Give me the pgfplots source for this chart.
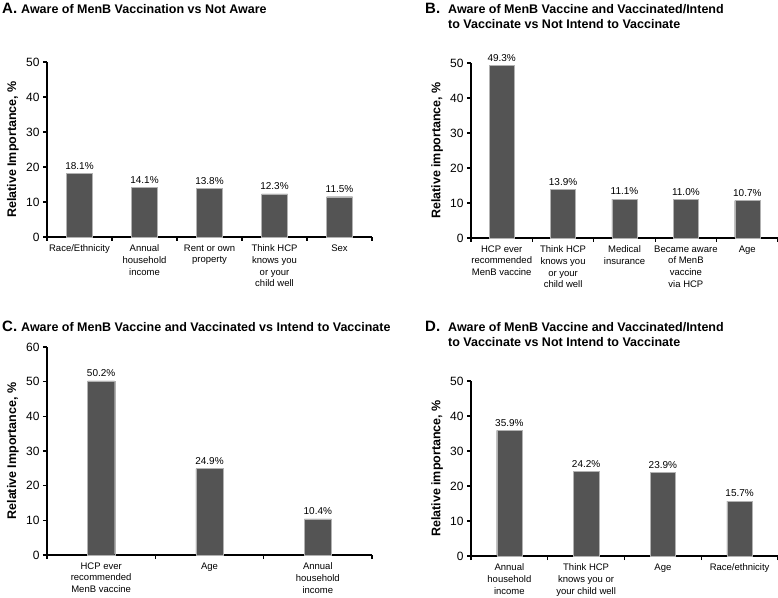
\documentclass[border=0pt]{standalone}
\usepackage{fontspec}
\setmainfont{Liberation Sans}
\usepackage{pgfplots}
\pgfplotsset{compat=1.18}
\definecolor{barcol}{RGB}{84,84,84}
\pgfplotsset{
 panel/.style={
  scale only axis,
  axis lines*=left,
  axis line style={line width=1.1pt},
  ymin=0,
  enlargelimits=false,
  clip=false,
  tick align=outside,
  major tick length=4pt,
  minor tick length=4pt,
  ytick style={black,line width=1.1pt},
  major x tick style={draw=none},
  minor x tick style={black,line width=1.1pt},
  /pgf/number format/assume math mode=true,
  yticklabel style={font=\fontsize{12}{14}\selectfont},
  xticklabel style={font=\fontsize{9.5}{11.8}\selectfont, align=center},
  ylabel style={font=\fontsize{12.5}{15}\selectfont\bfseries, anchor=center},
  ybar,
  nodes near coords={\pgfmathprintnumber[fixed,fixed zerofill,precision=1]{\pgfplotspointmeta}\%},
  nodes near coords style={font=\fontsize{10}{12}\selectfont, inner ysep=4pt, text=black},
  xtick=data,
 }
}
\tikzset{bars/.style={fill=barcol, draw=black!30, line width=0.4pt}}
\begin{document}
\begin{tikzpicture}
\useasboundingbox (0,0) rectangle (778pt,597pt);
% titles
\node[anchor=base west, font=\fontsize{15}{18}\selectfont\bfseries, inner sep=0] at (2pt,583pt) {A.};
\node[anchor=base west, font=\fontsize{12.5}{15}\selectfont\bfseries, inner sep=0] at (21pt,583pt) {Aware of MenB Vaccination vs Not Aware};
\node[anchor=base west, font=\fontsize{15}{18}\selectfont\bfseries, inner sep=0] at (425pt,583pt) {B.};
\node[anchor=base west, font=\fontsize{12.5}{15}\selectfont\bfseries, inner sep=0] at (448pt,583pt) {Aware of MenB Vaccine and Vaccinated/Intend};
\node[anchor=base west, font=\fontsize{12.5}{15}\selectfont\bfseries, inner sep=0] at (448pt,568pt) {to Vaccinate vs Not Intend to Vaccinate};
\node[anchor=base west, font=\fontsize{15}{18}\selectfont\bfseries, inner sep=0] at (2pt,265pt) {C.};
\node[anchor=base west, font=\fontsize{12.5}{15}\selectfont\bfseries, inner sep=0] at (21pt,265pt) {Aware of MenB Vaccine and Vaccinated vs Intend to Vaccinate};
\node[anchor=base west, font=\fontsize{15}{18}\selectfont\bfseries, inner sep=0] at (425pt,265pt) {D.};
\node[anchor=base west, font=\fontsize{12.5}{15}\selectfont\bfseries, inner sep=0] at (448pt,265pt) {Aware of MenB Vaccine and Vaccinated/Intend};
\node[anchor=base west, font=\fontsize{12.5}{15}\selectfont\bfseries, inner sep=0] at (448pt,250pt) {to Vaccinate vs Not Intend to Vaccinate};

% Panel A
\begin{axis}[panel, at={(47pt,360pt)}, anchor=south west,
  width=325pt, height=175pt,
  xmin=-0.5, xmax=4.5, ymax=50, ytick={0,10,20,30,40,50},
  minor xtick={-0.5,0.5,1.5,2.5,3.5,4.5},
  bar width=0.4,
  xticklabels={{Race/Ethnicity},{Annual\\household\\income},{Rent or own\\property},{Think HCP\\knows you\\or your\\child well},{Sex}},
  ylabel={Relative Importance, \%},
  ylabel style={at={(axis description cs:-0.1046,0.5)}}]
\addplot[bars] coordinates {(0,18.1) (1,14.1) (2,13.8) (3,12.3) (4,11.5)};
\end{axis}

% Panel B
\begin{axis}[panel, at={(471pt,359pt)}, anchor=south west,
  width=307pt, height=175pt,
  xmin=-0.5, xmax=4.5, ymax=50, ytick={0,10,20,30,40,50},
  minor xtick={-0.5,0.5,1.5,2.5,3.5,4.5},
  bar width=0.41,
  xticklabels={{HCP ever\\recommended\\MenB vaccine},{Think HCP\\knows you\\or your\\child well},{Medical\\insurance},{Became aware\\of MenB\\vaccine\\via HCP},{Age}},
  ylabel={Relative importance, \%},
  ylabel style={at={(axis description cs:-0.1107,0.5)}}]
\addplot[bars] coordinates {(0,49.3) (1,13.9) (2,11.1) (3,11.0) (4,10.7)};
\end{axis}

% Panel C
\begin{axis}[panel, at={(47pt,42pt)}, anchor=south west,
  width=325pt, height=208pt,
  xmin=-0.5, xmax=2.5, ymax=60, ytick={0,10,20,30,40,50,60},
  minor xtick={-0.5,0.5,1.5,2.5},
  bar width=0.25,
  xticklabels={{HCP ever\\recommended\\MenB vaccine},{Age},{Annual\\household\\income}},
  ylabel={Relative Importance, \%},
  ylabel style={at={(axis description cs:-0.1046,0.5)}}]
\addplot[bars] coordinates {(0,50.2) (1,24.9) (2,10.4)};
\end{axis}

% Panel D
\begin{axis}[panel, at={(471pt,41pt)}, anchor=south west,
  width=307pt, height=175pt,
  xmin=-0.5, xmax=3.5, ymax=50, ytick={0,10,20,30,40,50},
  minor xtick={-0.5,0.5,1.5,2.5,3.5},
  bar width=0.33,
  xticklabels={{Annual\\household\\income},{Think HCP\\knows you or\\your child well},{Age},{Race/ethnicity}},
  ylabel={Relative importance, \%},
  ylabel style={at={(axis description cs:-0.1107,0.5)}}]
\addplot[bars] coordinates {(0,35.9) (1,24.2) (2,23.9) (3,15.7)};
\end{axis}
\end{tikzpicture}
\end{document}
